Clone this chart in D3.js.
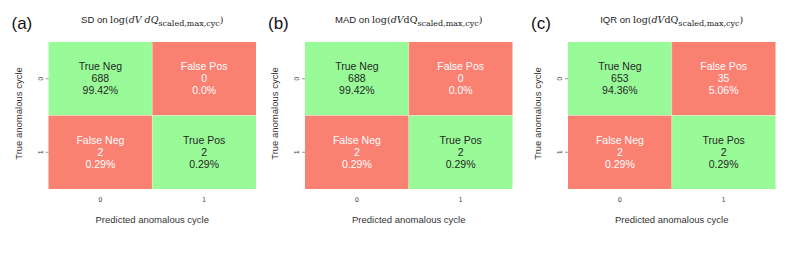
<!DOCTYPE html>
<html>
<head>
<meta charset="utf-8">
<script src="https://cdn.jsdelivr.net/npm/d3@7"></script>
<style>
  body { margin: 0; background: #fff; }
  text { font-family: "Liberation Sans", Arial, sans-serif; }
</style>
</head>
<body>
<script>
// confusion matrix data, cells ordered TN, FP, FN, TP
const panelTags = ["(a)", "(b)", "(c)"]
const methods = ["SD", "MAD", "IQR"]
const cellNames = ["True Neg", "False Pos", "False Neg", "True Pos"]
const classLabels = ["0", "1"]
const sdCounts = [688, 0, 2, 2]
const madCounts = [688, 0, 2, 2]
const iqrCounts = [653, 35, 2, 2]
const sdPct = [99.42, 0.0, 0.29, 0.29]
const madPct = [99.42, 0.0, 0.29, 0.29]
const iqrPct = [94.36, 5.06, 0.29, 0.29]

const allCounts = [sdCounts, madCounts, iqrCounts]
const allPct = [sdPct, madPct, iqrPct]

const W = 793, H = 255
const green = "#98fb98", salmon = "#fa8072"
const lefts = [48.5, 305, 568]
const top0 = 42, cw = 207.5, ch = 147

function fmtPct(v) {
  return (v === 0 ? "0.0" : v.toFixed(2)) + "%"
}

var svg = d3.select("body").append("svg")
    .attr("width", W)
    .attr("height", H)

methods.forEach(function(m, p) {
  var g = svg.append("g").attr("transform", "translate(" + lefts[p] + "," + top0 + ")")

  var x = d3.scaleBand().domain(classLabels).range([0, cw])
  var y = d3.scaleBand().domain(classLabels).range([0, ch])

  var cells = allCounts[p].map(function(c, i) {
    return {row: classLabels[Math.floor(i / 2)], col: classLabels[i % 2],
            name: cellNames[i], count: c, pct: allPct[p][i], good: i == 0 || i == 3}
  })

  g.selectAll("rect")
    .data(cells)
    .enter()
    .append("rect")
    .attr("x", function(d) { return x(d.col) })
    .attr("y", function(d) { return y(d.row) })
    .attr("width", x.bandwidth())
    .attr("height", y.bandwidth())
    .attr("fill", function(d) { return d.good ? green : salmon })

  // thin white grid between cells
  g.append("line").attr("x1", x("1")).attr("x2", x("1")).attr("y1", 0).attr("y2", ch)
    .attr("stroke", "#fff").attr("stroke-opacity", 0.5).attr("stroke-width", 0.6)
  g.append("line").attr("x1", 0).attr("x2", cw).attr("y1", y("1")).attr("y2", y("1"))
    .attr("stroke", "#fff").attr("stroke-opacity", 0.5).attr("stroke-width", 0.6)

  var txt = g.selectAll("text.cell")
    .data(cells)
    .enter()
    .append("text")
    .attr("class", "cell")
    .attr("text-anchor", "middle")
    .attr("font-size", 10.5)
    .attr("fill", function(d) { return d.good ? "#262626" : "#ffffff" })
    .attr("transform", function(d) {
      return "translate(" + (x(d.col) + x.bandwidth() / 2) + "," + (y(d.row) + y.bandwidth() / 2) + ")"
    })
  txt.append("tspan").attr("x", 0).attr("y", -8.5).text(function(d) { return d.name })
  txt.append("tspan").attr("x", 0).attr("y", 3.5).text(function(d) { return d.count })
  txt.append("tspan").attr("x", 0).attr("y", 15.5).text(function(d) { return fmtPct(d.pct) })

  // axes
  var xa = g.append("g")
    .attr("transform", "translate(0," + ch + ")")
    .call(d3.axisBottom(x).tickSize(0).tickPadding(8))
  xa.select(".domain").remove()
  xa.selectAll("text").attr("font-size", 6.5).attr("fill", "#444")
    .style("font-family", "'DejaVu Sans', sans-serif")

  var ya = g.append("g")
    .call(d3.axisLeft(y).tickSize(3).tickPadding(2))
  ya.select(".domain").remove()
  ya.selectAll("line").attr("stroke", "#555").attr("stroke-width", 0.6)
  ya.selectAll("text").attr("font-size", 6.5).attr("fill", "#444")
    .style("font-family", "'DejaVu Sans', sans-serif")
    .attr("transform", "rotate(-90)")
    .attr("x", 0).attr("y", -8).attr("dy", "0.32em")
    .attr("text-anchor", "middle")
    .attr("transform", "rotate(-90)")
  ya.selectAll(".tick text").each(function() {
    d3.select(this).attr("transform", "translate(-8,0) rotate(-90)").attr("y", 0).attr("dy", "0.32em")
  })

  g.append("text")
    .attr("x", cw / 2).attr("y", ch + 34)
    .attr("text-anchor", "middle")
    .attr("font-size", 9.5).attr("fill", "#333")
    .text("Predicted anomalous cycle")

  g.append("text")
    .attr("transform", "translate(-27," + (ch / 2 - 2) + ") rotate(-90)")
    .attr("text-anchor", "middle")
    .attr("font-size", 9.5).attr("fill", "#333")
    .text("True anomalous cycle")

  // title: method name + math expression
  var t = g.append("text")
    .attr("x", cw / 2).attr("y", -19)
    .attr("text-anchor", "middle")
    .attr("font-size", 9.5).attr("fill", "#222")
  t.append("tspan").text(m + " on ")
  var ser = "'DejaVu Serif', 'Liberation Serif', serif"
  t.append("tspan").style("font-family", ser).text("log(")
  t.append("tspan").style("font-family", ser).attr("font-style", "italic").text(p == 0 ? "dV dQ" : "dV")
  if (p > 0) {
    t.append("tspan").style("font-family", ser).text("dQ")
  }
  t.append("tspan").style("font-family", ser).attr("font-size", 8).attr("dy", 3).text("scaled,max,cyc")
  t.append("tspan").style("font-family", ser).attr("dy", -3).text(")")

  svg.append("text")
    .attr("x", lefts[p] - 37).attr("y", 29)
    .attr("font-size", 17).attr("fill", "#111")
    .text(panelTags[p])
})
</script>
</body>
</html>
